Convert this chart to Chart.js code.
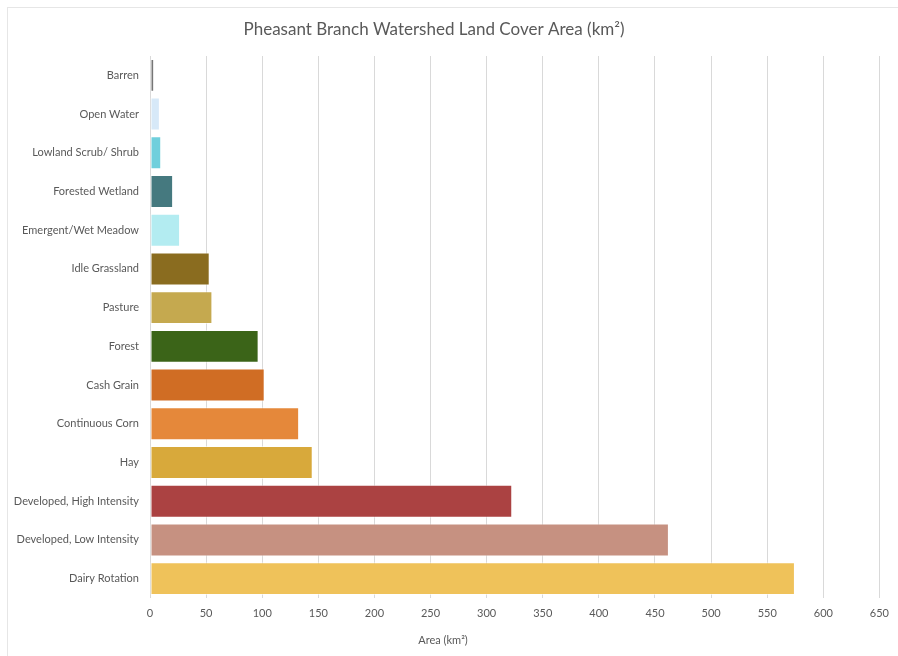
<!DOCTYPE html>
<html>
<head>
<meta charset="utf-8">
<script src="https://cdn.jsdelivr.net/npm/chart.js@4.4.0/dist/chart.umd.min.js"></script>
<style>
  html, body { margin: 0; padding: 0; background: #ffffff; }
  #wrap { position: relative; width: 898px; height: 656px; }
  #frame { position: absolute; left: 7px; top: 7px; right: 0; bottom: 0; border-left: 1.5px solid #e6e6e6; border-top: 1.5px solid #e6e6e6; pointer-events: none; }
  canvas { position: absolute; left: 0; top: 0; }
</style>
</head>
<body>
<div id="wrap">
  <canvas id="chart" width="898" height="656"></canvas>
  <div id="frame"></div>
</div>
<script>
const categories = [
  'Barren', 'Open Water', 'Lowland Scrub/ Shrub', 'Forested Wetland', 'Emergent/Wet Meadow',
  'Idle Grassland', 'Pasture', 'Forest', 'Cash Grain', 'Continuous Corn', 'Hay',
  'Developed, High Intensity', 'Developed, Low Intensity', 'Dairy Rotation'
];
const areaKm2 = [3.7, 8.8, 10.0, 20.6, 26.8, 53.2, 55.6, 96.8, 102.2, 132.9, 145.0, 322.8, 462.4, 574.7];
const barColors = [
  '#767676', '#d7e9f8', '#6fcfdc', '#45797f', '#b3ecf1',
  '#8a6c1f', '#c5a94f', '#3b6418', '#d06d24', '#e5883a', '#d8a93b',
  '#ab4242', '#c69181', '#efc25a'
];
const xTicks = [0, 50, 100, 150, 200, 250, 300, 350, 400, 450, 500, 550, 600, 650];
const chartTitle = 'Pheasant Branch Watershed Land Cover Area (km²)';
const xAxisTitle = 'Area (km²)';

const FONT = 'Lato, "Open Sans", sans-serif';
const TEXT = '#595959';

// Chart title and axis title, centred on the whole chart box rather than the plot area
const titlesPlugin = {
  id: 'titles',
  afterDraw(chart) {
    const ctx = chart.ctx;
    ctx.save();
    ctx.fillStyle = TEXT;
    ctx.textAlign = 'center';
    ctx.textBaseline = 'middle';
    ctx.font = '17px ' + FONT;
    ctx.fillText(chartTitle, chart.width / 2 - 15, 30);
    ctx.font = '11px ' + FONT;
    ctx.fillText(xAxisTitle, chart.width / 2 - 6, chart.height - 16);
    ctx.restore();
  }
};

new Chart(document.getElementById('chart'), {
  type: 'bar',
  data: {
    labels: categories,
    datasets: [{
      data: areaKm2,
      backgroundColor: barColors,
      borderColor: 'rgba(255,255,255,0.55)',
      borderWidth: 1,
      borderSkipped: false,
      barPercentage: 0.85,
      categoryPercentage: 1.0
    }]
  },
  plugins: [titlesPlugin],
  options: {
    indexAxis: 'y',
    responsive: false,
    animation: false,
    layout: { padding: { left: 0, right: 17, top: 56, bottom: 0 } },
    plugins: {
      legend: { display: false },
      tooltip: { enabled: false },
      title: { display: false }
    },
    scales: {
      x: {
        min: 0,
        max: 650,
        afterBuildTicks: (scale) => { scale.ticks = xTicks.map(v => ({ value: v })); },
        afterFit: (scale) => { scale.height = 58; },
        grid: { color: '#d9d9d9', lineWidth: 1, drawTicks: false },
        border: { display: false },
        ticks: { color: TEXT, font: { family: FONT, size: 11 }, padding: 9 }
      },
      y: {
        afterFit: (scale) => { scale.width = 150; },
        grid: { display: false, drawTicks: false },
        border: { display: false },
        ticks: { color: TEXT, font: { family: FONT, size: 11 }, padding: 11 }
      }
    }
  }
});
</script>
</body>
</html>
